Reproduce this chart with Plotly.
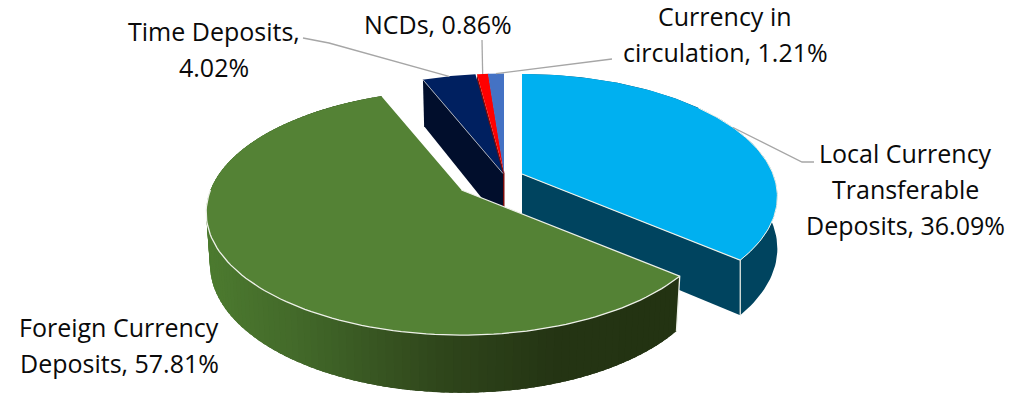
import numpy as np
import plotly.graph_objects as go

# Deposit composition, in percent
categories = ["Local Currency\nTransferable\nDeposits", "Foreign Currency\nDeposits",
              "Time Deposits", "NCDs", "Currency in\ncirculation"]
shares = [36.09, 57.81, 4.02, 0.86, 1.21]
separators = [", ", ", ", ",\n", ", ", ", "]

# Colours of each wedge: top face, cut face
top_colors = ["#00B0F0", "#548235", "#002060", "#FF0000", "#4472C4"]
cut_colors = ["#00445F", "#23330F", "#010E2C", "#7A0A0A", "#22396A"]

# Pie projection: wedge apex in pixels, radii, perspective strength, extrusion
apexes = [(522, 174), (461.5, 190), (503, 173.5), (504.5, 173.5), (504, 173.5)]
bottom_sx = [1.0, 0.985, 0.985, 0.985, 0.985]
RX, RY, PERSP = 251, 118.4, 0.184
DEPTH, BOTTOM_SY = 51, 1.046
EDGE = "#EEF1E9"
LEADER = "#A6A6A6"

# Label layout: centre x, first line y, and the elbow of each leader line
label_pos = [(905, 153), (119, 327), (214, 31), (438, 24), (725, 16)]
LINE_GAP = 36
FONT = dict(family="Open Sans", size=25, color="#0A0A0A")
leader_paths = [[(814, 162), (802, 162)], None, [(303, 38), (329, 43)],
                [(482, 40)], [(612, 59)]]

total = sum(shares)
edges = np.concatenate([[0], np.cumsum(shares)]) / total * 2 * np.pi


def top_point(i, ang):
    u, v = np.sin(ang), -np.cos(ang)
    s = 1 / (1 - PERSP * v)
    return apexes[i][0] + RX * u * s, apexes[i][1] + RY * v * s


def low_point(i, ang):
    u, v = np.sin(ang), -np.cos(ang)
    s = 1 / (1 - PERSP * v)
    return (apexes[i][0] + RX * u * s * bottom_sx[i],
            apexes[i][1] + RY * v * s * BOTTOM_SY + DEPTH)


def arc(i, a0, a1, fn=top_point, n=90):
    pts = [fn(i, a) for a in np.linspace(a0, a1, n)]
    return [p[0] for p in pts], [p[1] for p in pts]


def polygon(xs, ys, color, line=0.0):
    return go.Scatter(x=list(xs) + [xs[0]], y=list(ys) + [ys[0]], mode="lines", fill="toself",
                      fillcolor=color, line=dict(color=color, width=line), hoverinfo="skip",
                      showlegend=False)


def path(xs, ys, color, width=1.0):
    return go.Scatter(x=list(xs), y=list(ys), mode="lines", line=dict(color=color, width=width),
                      hoverinfo="skip", showlegend=False)


def top_face(i):
    xs, ys = arc(i, edges[i], edges[i + 1])
    ax, ay = apexes[i]
    return polygon([ax] + xs, [ay] + ys, top_colors[i])


def cut_face(i, ang):
    ax, ay = apexes[i]
    ox, oy = top_point(i, ang)
    lx, ly = low_point(i, ang)
    return polygon([ax, ox, lx, ax], [ay, oy, ly, ay + DEPTH], cut_colors[i])


def side_color(t):
    # Rim shading of the large wedge: dark on the right, lit on the left
    stops = [(0.0, (35, 51, 18)), (0.25, (36, 52, 19)), (0.5, (47, 70, 27)),
             (0.8, (66, 104, 41)), (1.0, (76, 122, 47))]
    for (t0, c0), (t1, c1) in zip(stops, stops[1:]):
        if t <= t1:
            f = (t - t0) / (t1 - t0)
            return "rgb(%d,%d,%d)" % tuple(round(a + (b - a) * f) for a, b in zip(c0, c1))
    return "rgb(76,122,47)"


fig = go.Figure()

# Small wedges sit furthest back
fig.add_trace(cut_face(3, edges[3]))
fig.add_trace(cut_face(2, edges[2]))
for i in (2, 3, 4):
    fig.add_trace(top_face(i))
ax2, ay2 = apexes[2]
ox2, oy2 = top_point(2, edges[2])
fig.add_trace(path([ax2, ox2], [ay2, oy2], "#A9ADB8", 1.0))

# Local currency wedge: rim, cut face, top
i = 0
xs_t, ys_t = arc(i, edges[0], edges[1])
xs_l, ys_l = arc(i, edges[0], edges[1], low_point)
fig.add_trace(polygon(xs_t + xs_l[::-1], ys_t + ys_l[::-1], cut_colors[0]))
fig.add_trace(cut_face(0, edges[1]))
fig.add_trace(top_face(0))
ox, oy = top_point(0, edges[1])
lx, ly = low_point(0, edges[1])
fig.add_trace(path([apexes[0][0], ox, lx], [apexes[0][1], oy, ly], EDGE, 1.2))
xs_e, ys_e = arc(0, edges[0] + 0.9, edges[1])
fig.add_trace(path(xs_e, ys_e, EDGE))

# Foreign currency wedge: shaded rim strips, each overlapping the next, then top
ticks = np.linspace(edges[1], edges[2], 130)
left = top_point(1, 3 * np.pi / 2)[0]
right = top_point(1, edges[1])[0]
for a0, a1 in zip(ticks[:-1], ticks[1:]):
    a_end = min(a1 + (a1 - a0) * 1.5, edges[2])
    p0, p1 = top_point(1, a0), top_point(1, a_end)
    q0, q1 = low_point(1, a0), low_point(1, a_end)
    t = min(max((right - p0[0]) / (right - left), 0), 1)
    fig.add_trace(polygon([p0[0], p1[0], q1[0], q0[0]], [p0[1], p1[1], q1[1], q0[1]], side_color(t)))
fig.add_trace(top_face(1))
ox, oy = top_point(1, edges[1])
lx, ly = low_point(1, edges[1])
fig.add_trace(path([apexes[1][0], ox, lx], [apexes[1][1], oy, ly], EDGE, 1.3))
xs_e, ys_e = arc(1, edges[1], 3 * np.pi / 2)
fig.add_trace(path(xs_e, ys_e, EDGE, 1.3))

# Leader lines run from each wedge's mid-arc to its label
for i, elbow in enumerate(leader_paths):
    if elbow is None:
        continue
    mx, my = top_point(i, (edges[i] + edges[i + 1]) / 2)
    fig.add_trace(path([p[0] for p in elbow] + [mx], [p[1] for p in elbow] + [my], LEADER, 1.3))

# Data labels, one annotation per text line
annotations = []
for name, sep, value, (cx, cy) in zip(categories, separators, shares, label_pos):
    text = f"{name}{sep}{value:.2f}%"
    for k, line in enumerate(text.split("\n")):
        annotations.append(dict(x=cx, y=cy + k * LINE_GAP, text=line, showarrow=False, xref="x", yref="y",
                                xanchor="center", yanchor="middle", font=FONT))

fig.update_layout(
    width=1030, height=397, autosize=False, margin=dict(l=0, r=0, t=0, b=0),
    paper_bgcolor="white", plot_bgcolor="white", showlegend=False,
    xaxis=dict(range=[0, 1030], visible=False, fixedrange=True),
    yaxis=dict(range=[397, 0], visible=False, fixedrange=True),
    annotations=annotations,
)
fig.write_html("out.html", config=dict(displayModeBar=False))
